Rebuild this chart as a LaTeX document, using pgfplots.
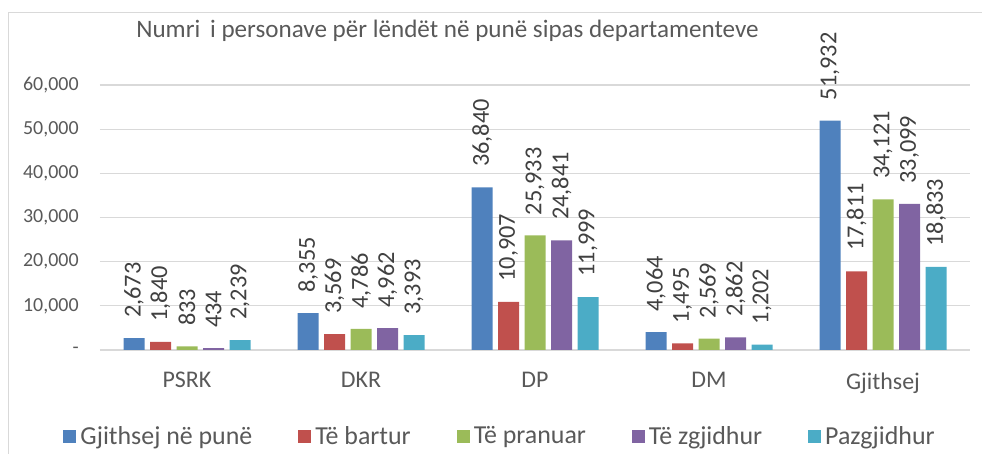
\documentclass[border=0pt]{standalone}
\usepackage{pgfplots}
\pgfplotsset{compat=1.18}
\usepackage{fontspec}
\setmainfont{Carlito}
\definecolor{cblue}{HTML}{4F81BD}
\definecolor{cred}{HTML}{C0504D}
\definecolor{cgreen}{HTML}{9BBB59}
\definecolor{cpurple}{HTML}{8064A2}
\definecolor{caqua}{HTML}{4BACC6}
\definecolor{cgrid}{HTML}{D9D9D9}
\definecolor{ctext}{HTML}{595959}
\definecolor{cval}{HTML}{404040}
\begin{document}
\begin{tikzpicture}
\begin{axis}[
  at={(50bp,52bp)}, anchor=south west,
  scale only axis, width=435bp, height=132.5bp,
  xmin=-0.5, xmax=4.5, ymin=0, ymax=60000,
  ybar=2.75bp, bar width=10.5bp,
  xtick={0,1,2,3,4},
  xticklabels={PSRK,DKR,DP,DM,Gjithsej},
  ytick={0,10000,20000,30000,40000,50000,60000},
  yticklabels={{-\hspace{5.5bp}},{10,000},{20,000},{30,000},{40,000},{50,000},{60,000}},
  scaled y ticks=false,
  ymajorgrids, grid style={cgrid, line width=0.6bp},
  axis line style={draw=none},
  major tick length=0pt,
  /pgf/number format/assume math mode=true,
  /pgf/number format/.cd, fixed, precision=0, 1000 sep={,},
  /pgfplots/.cd,
  yticklabel style={anchor=east, inner sep=0pt, xshift=-10.5bp, font=\fontsize{10}{12}\selectfont, text=ctext},
  xticklabel style={anchor=north, inner sep=0pt, yshift=-11bp, font=\fontsize{12}{14}\selectfont, text=ctext},
  nodes near coords,
  nodes near coords style={rotate=90, anchor=west, inner xsep=10bp, inner ysep=0pt, font=\fontsize{12.2}{14}\selectfont, text=cval},
  legend columns=5,
  legend style={at={(0.461,-0.328)}, anchor=center, draw=none, fill=none,
    font=\fontsize{13}{15}\selectfont, text=ctext,
    /tikz/every even column/.append style={column sep=21bp}},
  legend image code/.code={\fill[#1] (0bp,-3.25bp) rectangle (6.5bp,3.25bp);},
]
\addplot[fill=cblue, draw=none] coordinates {(0,2673) (1,8355) (2,36840) (3,4064) (4,51932)};
\addplot[fill=cred, draw=none] coordinates {(0,1840) (1,3569) (2,10907) (3,1495) (4,17811)};
\addplot[fill=cgreen, draw=none] coordinates {(0,833) (1,4786) (2,25933) (3,2569) (4,34121)};
\addplot[fill=cpurple, draw=none] coordinates {(0,434) (1,4962) (2,24841) (3,2862) (4,33099)};
\addplot[fill=caqua, draw=none] coordinates {(0,2239) (1,3393) (2,11999) (3,1202) (4,18833)};
\legend{Gjithsej në punë, Të bartur, Të pranuar, Të zgjidhur, Pazgjidhur}
\end{axis}
\draw[cgrid, line width=0.8bp] (4.2bp,0bp) -- (4.2bp,220.8bp) -- (491bp,220.8bp);
\node[anchor=base, font=\fontsize{12.6}{15}\selectfont, text=ctext] at (223.75bp,208bp) {Numri\, i personave për lëndët në punë sipas departamenteve};
\pgfresetboundingbox
\useasboundingbox (0bp,0bp) rectangle (491bp,227bp);
\end{tikzpicture}
\end{document}
